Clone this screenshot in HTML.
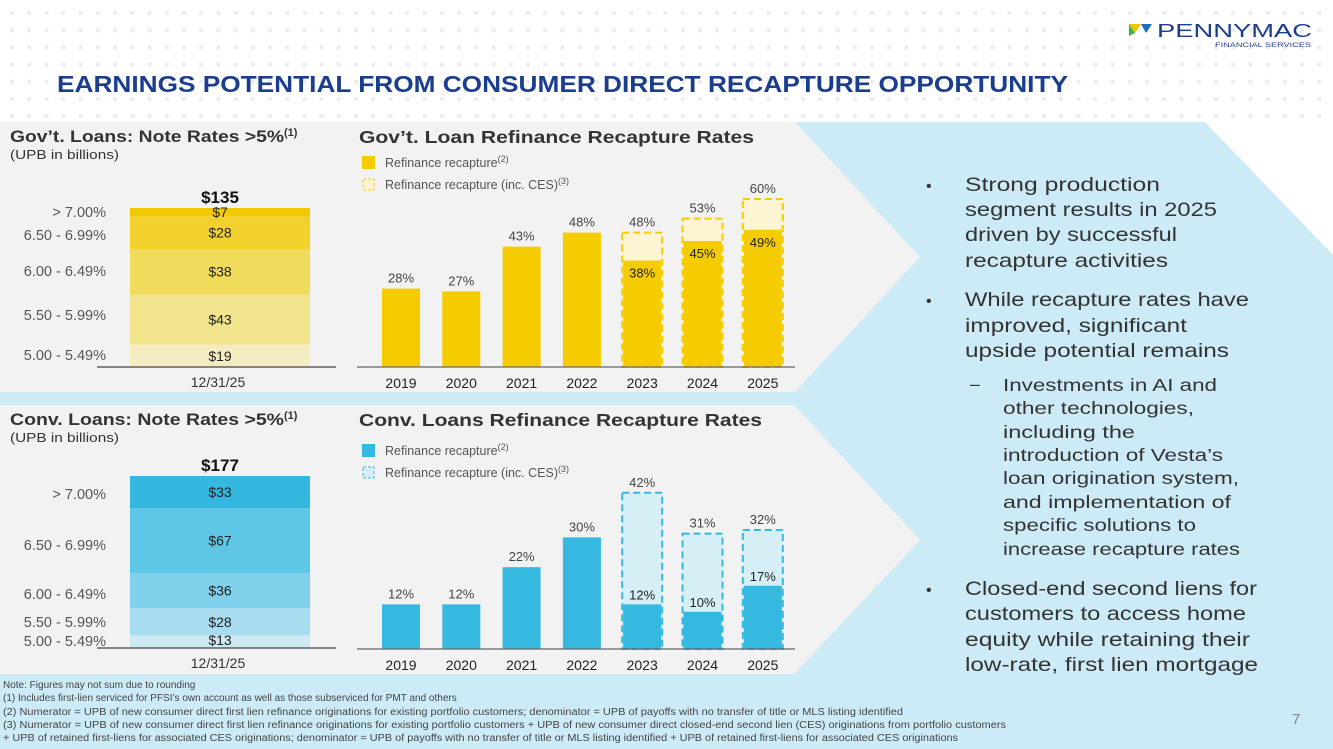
<!DOCTYPE html>
<html><head><meta charset="utf-8"><style>
html,body{margin:0;padding:0;background:#fff;}
svg{display:block;font-family:"Liberation Sans",sans-serif;}
</style></head><body>
<svg id="s" width="1333" height="749" viewBox="0 0 1333 749">
<defs>
<pattern id="dots" x="10" y="11" width="17.2" height="17.2" patternUnits="userSpaceOnUse"><rect width="4" height="4" fill="#ededed"/></pattern>
</defs>
<rect width="1333" height="122" fill="url(#dots)"/>
<polygon points="0,122 1205,122 1333,255 1333,749 0,749" fill="#cdebf7"/>
<polygon points="0,122 795,122 920,257 795,392 0,392" fill="#f2f2f2"/>
<polygon points="0,405 794,405 920,540 794,674 0,674" fill="#f2f2f2"/>
<text x="57" y="92" font-size="23" font-weight="bold" fill="#1b3d8f" textLength="1011" lengthAdjust="spacingAndGlyphs">EARNINGS POTENTIAL FROM CONSUMER DIRECT RECAPTURE OPPORTUNITY</text>
<g>
<polygon points="1129,24 1141,24 1135,33" fill="#f5c400"/><polygon points="1141,24 1152,24 1146,33" fill="#1b6fc0"/><polygon points="1129,24 1135,33 1129,36" fill="#3fb34f"/>
<text x="1157" y="37" font-size="18" fill="#1b3d8f" textLength="155" lengthAdjust="spacingAndGlyphs">PENNYMAC</text>
<text x="1215" y="47" font-size="6" fill="#1b3d8f" textLength="96" lengthAdjust="spacingAndGlyphs">FINANCIAL SERVICES</text>
</g>
<g id="g" fill="#333"></g>
<g fill="#333" font-size="19.5">
<text x="926" y="191" font-size="16">•</text>
<text x="965" y="191" textLength="195" lengthAdjust="spacingAndGlyphs">Strong production</text>
<text x="965" y="216" textLength="252" lengthAdjust="spacingAndGlyphs">segment results in 2025</text>
<text x="965" y="241" textLength="212" lengthAdjust="spacingAndGlyphs">driven by successful</text>
<text x="965" y="267" textLength="203" lengthAdjust="spacingAndGlyphs">recapture activities</text>
<text x="926" y="306" font-size="16">•</text>
<text x="965" y="306" textLength="284" lengthAdjust="spacingAndGlyphs">While recapture rates have</text>
<text x="965" y="332" textLength="222" lengthAdjust="spacingAndGlyphs">improved, significant</text>
<text x="965" y="357" textLength="264" lengthAdjust="spacingAndGlyphs">upside potential remains</text>
<g font-size="17.5">
<text x="970" y="390">–</text>
<text x="1003" y="391" textLength="214" lengthAdjust="spacingAndGlyphs">Investments in AI and</text>
<text x="1003" y="414" textLength="191" lengthAdjust="spacingAndGlyphs">other technologies,</text>
<text x="1003" y="438" textLength="132" lengthAdjust="spacingAndGlyphs">including the</text>
<text x="1003" y="461" textLength="220" lengthAdjust="spacingAndGlyphs">introduction of Vesta’s</text>
<text x="1003" y="484" textLength="236" lengthAdjust="spacingAndGlyphs">loan origination system,</text>
<text x="1003" y="508" textLength="228" lengthAdjust="spacingAndGlyphs">and implementation of</text>
<text x="1003" y="531" textLength="193" lengthAdjust="spacingAndGlyphs">specific solutions to</text>
<text x="1003" y="555" textLength="237" lengthAdjust="spacingAndGlyphs">increase recapture rates</text>
</g>
<text x="926" y="595" font-size="16">•</text>
<text x="965" y="595" textLength="292" lengthAdjust="spacingAndGlyphs">Closed-end second liens for</text>
<text x="965" y="620" textLength="281" lengthAdjust="spacingAndGlyphs">customers to access home</text>
<text x="965" y="646" textLength="285" lengthAdjust="spacingAndGlyphs">equity while retaining their</text>
<text x="965" y="671" textLength="293" lengthAdjust="spacingAndGlyphs">low-rate, first lien mortgage</text>
</g>
<g fill="#444" font-size="10">
<text x="3" y="688">Note: Figures may not sum due to rounding</text>
<text x="3" y="701">(1) Includes first-lien serviced for PFSI’s own account as well as those subserviced for PMT and others</text>
<text x="3" y="715" textLength="900" lengthAdjust="spacingAndGlyphs">(2) Numerator = UPB of new consumer direct first lien refinance originations for existing portfolio customers; denominator = UPB of payoffs with no transfer of title or MLS listing identified</text>
<text x="3" y="728" textLength="1003" lengthAdjust="spacingAndGlyphs">(3) Numerator = UPB of new consumer direct first lien refinance originations for existing portfolio customers  + UPB of new consumer direct closed-end second lien (CES) originations from portfolio customers</text>
<text x="3" y="741" textLength="955" lengthAdjust="spacingAndGlyphs">+ UPB of retained first-liens for associated CES originations; denominator = UPB of payoffs with no transfer of title or MLS listing identified + UPB of retained first-liens for associated CES originations</text>
</g>
<text x="1292" y="724" font-size="15" fill="#888">7</text>
</svg>
<script>
const years = ["2019","2020","2021","2022","2023","2024","2025"];
const govRefi = [28,27,43,48,38,45,49];
const govCes = [null,null,null,null,48,53,60];
const convRefi = [12,12,22,30,12,10,17];
const convCes = [null,null,null,null,42,31,32];
const rateBuckets = ["5.00 - 5.49%","5.50 - 5.99%","6.00 - 6.49%","6.50 - 6.99%","> 7.00%"];
const govUpb = [19,43,38,28,7];
const convUpb = [13,28,36,67,33];
const govTotal = "$135";
const convTotal = "$177";

const NS="http://www.w3.org/2000/svg";
const root=document.getElementById('g');
function el(tag,attrs,parent,text){const e=document.createElementNS(NS,tag);for(const k in attrs)e.setAttribute(k,attrs[k]);if(text!==undefined)e.textContent=text;(parent||root).appendChild(e);return e;}

function stacked(cfg){
  const g=el('g',{});
  
  
  let t=el('text',{x:10,y:cfg.top+20,'font-size':17,'font-weight':'bold',fill:'#333'},g);
  el('tspan',{textLength:274,lengthAdjust:'spacingAndGlyphs'},t,cfg.title);
  el('tspan',{'font-size':11,dy:-6},t,'(1)');
  el('text',{x:10,y:cfg.top+37,'font-size':13,fill:'#333',textLength:109,lengthAdjust:'spacingAndGlyphs'},g,'(UPB in billions)');
  const total=cfg.vals.reduce((a,b)=>a+b,0);
  const k=cfg.h/total;
  const y=v=>cfg.base-v*k;
  let acc=0;
  cfg.vals.forEach((v,i)=>{
    const y0=y(acc), y1=y(acc+v);
    const r=el('rect',{x:130,y:y1,width:180,height:y0-y1,fill:cfg.colors[i]},g);
    
    
    const mid=(y0+y1)/2;
    const lab=el('text',{x:220,y:Math.min(mid+5,cfg.base-3),'font-size':14,'text-anchor':'middle',fill:'#222'},g,'$'+v);
    
    
    const rl=el('text',{x:106,y:cfg.labY[i],'font-size':14.5,'text-anchor':'end',fill:'#555'},g,rateBuckets[i]);
    
    
    acc+=v;
  });
  el('text',{x:220,y:y(total)-5,'font-size':17,'font-weight':'bold','text-anchor':'middle',fill:'#111'},g,cfg.totalLabel);
  el('line',{x1:97,x2:336,y1:cfg.base,y2:cfg.base,stroke:'#444','stroke-width':1.2},g);
  el('text',{x:218,y:cfg.base+20,'font-size':14,'text-anchor':'middle',fill:'#333'},g,'12/31/25');
}

function bars(cfg){
  const g=el('g',{});
  
  
  el('text',{x:359,y:cfg.titleY,'font-size':17.5,'font-weight':'bold',fill:'#333',textLength:cfg.titleW,lengthAdjust:'spacingAndGlyphs'},g,cfg.title);
  const ly=cfg.legY;
  el('rect',{x:362,y:ly,width:13,height:13,fill:cfg.color},g);
  let t=el('text',{x:385,y:ly+11,'font-size':12.5,fill:'#555'},g,'Refinance recapture');
  el('tspan',{'font-size':9,dy:-5},t,'(2)');
  el('rect',{x:363,y:ly+23,width:11,height:11,fill:cfg.light,stroke:cfg.color,'stroke-dasharray':'3,2'},g);
  t=el('text',{x:385,y:ly+33,'font-size':12.5,fill:'#555'},g,'Refinance recapture (inc. CES)');
  el('tspan',{'font-size':9,dy:-5},t,'(3)');
  const x=i=>401+i*60.3;
  const y=v=>cfg.base-v*cfg.k;
  years.forEach((yr,i)=>{
    const ces=cfg.ces[i];
    if(ces!=null){
      const c=el('rect',{x:x(i)-20,y:y(ces),width:40,height:cfg.base-y(ces),fill:cfg.light,stroke:cfg.color,'stroke-width':2,'stroke-dasharray':'7,4'},g);
      
      
      el('text',{x:x(i),y:y(ces)-6,'font-size':13,'text-anchor':'middle',fill:'#444'},g,ces+'%');
    }
    const v=cfg.refi[i];
    const b=el('rect',{x:x(i)-19,y:y(v),width:38,height:cfg.base-y(v),fill:cfg.color},g);
    
    
    if(ces!=null){
      el('text',{x:x(i),y:y(v)+(cfg.inside?17:-5),'font-size':13,'text-anchor':'middle',fill:'#222'},g,v+'%');
    } else {
      el('text',{x:x(i),y:y(v)-6,'font-size':13,'text-anchor':'middle',fill:'#444'},g,v+'%');
    }
    const xl=el('text',{x:x(i),y:cfg.base+21,'font-size':14,'text-anchor':'middle',fill:'#222'},g,yr);
    
    
  });
  el('line',{x1:357,x2:795,y1:cfg.base,y2:cfg.base,stroke:'#666','stroke-width':1.2},g);
}

stacked({name:'gov-note-rates-chart',title:'Gov’t. Loans: Note Rates >5%',top:122,vals:govUpb,base:367,h:159,totalLabel:govTotal,
  colors:['#f4edc2','#f2e48c','#f1db5a','#f2d12c','#f2c800'],labY:[360,320,276,240,217]});
stacked({name:'conv-note-rates-chart',title:'Conv. Loans: Note Rates >5%',top:405,vals:convUpb,base:648,h:172,totalLabel:convTotal,
  colors:['#cde9f2','#a6dcee','#7fd0ea','#5ec6e6','#34b8e0'],labY:[646,627,599,550,499]});
bars({name:'gov-recapture-chart',title:'Gov’t. Loan Refinance Recapture Rates',titleY:143,titleW:395,legY:156,base:367,k:2.8,refi:govRefi,ces:govCes,color:'#f5cc00',light:'#fdf4d4',inside:true});
bars({name:'conv-recapture-chart',title:'Conv. Loans Refinance Recapture Rates',titleY:426,titleW:403,legY:444,base:649,k:3.72,refi:convRefi,ces:convCes,color:'#36b9e0',light:'#d6eef6',inside:false});
</script>
</body></html>
